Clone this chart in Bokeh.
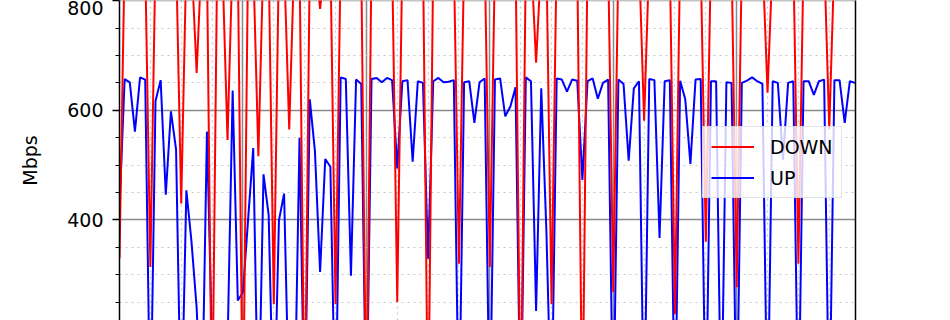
from bokeh.plotting import figure
from bokeh.models import (Range1d, FixedTicker, LinearAxis, Legend, LegendItem,
                          ColumnDataSource)
from bokeh.embed import file_html
from bokeh.resources import INLINE

# hourly samples over six days
hours = list(range(144))

down_mbps = [
    330, 880, 892, 875, 886, 870, 314, 884, 878, 890, 872, 885,
    430, 880, 874, 668, 888, 876, 5, 882, 870, 546, 886, 878,
    8, 884, 872, 516, 890, 876, 246, 882, 874, 565, 886, 880,
    4, 878, 888, 785, 872, 884, 246, 880, 890, 876, 884, 870,
    6, 882, 878, 888, 874, 880, 250, 886, 872, 884, 878, 890,
    3, 876, 884, 872, 888, 880, 320, 878, 886, 874, 882, 890,
    314, 876, 884, 872, 880, 888, 5, 878, 884, 687, 876, 882,
    246, 888, 874, 880, 886, 872, 6, 884, 878, 890, 876, 882,
    268, 874, 886, 880, 872, 884, 581, 878, 888, 874, 882, 876,
    228, 886, 872, 880, 890, 876, 360, 884, 878, 872, 886, 880,
    277, 874, 888, 882, 876, 884, 632, 878, 872, 886, 880, 890,
    320, 876, 884, 872, 880, 886, 565, 878, 884, 874, 888, 880,
]

up_mbps = [
    420, 657, 651, 561, 660, 656, 8, 617, 655, 446, 598, 528,
    10, 454, 360, 240, 20, 561, 170, 120, 140, 165, 636, 253,
    268, 400, 531, 12, 483, 409, 6, 399, 448, 40, 15, 550,
    10, 620, 525, 305, 511, 497, 8, 660, 657, 298, 656, 648,
    5, 657, 659, 651, 659, 655, 494, 653, 655, 506, 653, 650,
    329, 653, 659, 651, 652, 655, 6, 651, 653, 577, 651, 658,
    8, 656, 658, 589, 607, 642, 5, 660, 653, 234, 640, 380,
    20, 658, 656, 634, 656, 654, 473, 653, 658, 621, 650, 656,
    6, 656, 648, 508, 640, 653, 5, 657, 655, 367, 653, 655,
    8, 654, 620, 502, 656, 657, 6, 653, 653, 8, 651, 650,
    5, 650, 654, 660, 653, 648, 6, 653, 650, 510, 650, 653,
    8, 653, 653, 628, 653, 656, 5, 655, 655, 577, 653, 650,
]

y_major = [200, 400, 600, 800]
y_minor = [v for v in range(0, 1001, 50) if v not in y_major]
x_major = [24, 48, 72, 96, 120]
x_minor = [h for h in range(0, 145, 6) if h not in x_major]

FONT = "DejaVu Sans"

p = figure(width=950, height=320, output_backend="svg", toolbar_location=None,
           x_range=Range1d(0, 143.1), y_range=Range1d(216.4, 800.3),
           x_axis_location=None, min_border_left=119, min_border_right=95,
           min_border_top=0, min_border_bottom=0)
p.outline_line_color = None
p.background_fill_color = "white"
p.border_fill_color = "white"

# left axis
ax = p.yaxis[0]
ax.ticker = FixedTicker(ticks=y_major, minor_ticks=y_minor)
ax.axis_label = "Mbps"
ax.axis_label_text_font = FONT
ax.axis_label_text_font_size = "19px"
ax.axis_label_text_font_style = "normal"
ax.axis_label_text_color = "black"
ax.axis_label_standoff = 23
ax.major_label_text_font = FONT
ax.major_label_text_font_size = "19px"
ax.major_label_text_color = "black"
ax.major_label_standoff = 9
ax.axis_line_color = "black"
ax.axis_line_width = 1.5
ax.major_tick_out = 7
ax.major_tick_in = 0
ax.major_tick_line_width = 1.5
ax.minor_tick_out = 4
ax.minor_tick_in = 0
ax.minor_tick_line_width = 1.2

# right spine
rax = LinearAxis(ticker=FixedTicker(ticks=[]))
rax.axis_line_color = "black"
rax.axis_line_width = 1.5
rax.major_tick_line_color = None
rax.minor_tick_line_color = None
rax.major_label_text_color = None
p.add_layout(rax, "right")

# grids
yg = p.ygrid[0]
yg.ticker = FixedTicker(ticks=y_major, minor_ticks=y_minor)
yg.grid_line_color = "#8a8a8a"
yg.grid_line_width = 1.5
yg.minor_grid_line_color = "#c8c8c8"
yg.minor_grid_line_width = 1.2
yg.minor_grid_line_dash = "2 4"

xg = p.xgrid[0]
xg.ticker = FixedTicker(ticks=x_major, minor_ticks=x_minor)
xg.grid_line_color = "#8a8a8a"
xg.grid_line_width = 1.5
xg.minor_grid_line_color = "#c8c8c8"
xg.minor_grid_line_width = 1.2
xg.minor_grid_line_dash = "2 4"

src = ColumnDataSource(data=dict(hour=hours, down=down_mbps, up=up_mbps))
r_up = p.line("hour", "up", source=src, line_color="#0000ff", line_width=2)
r_down = p.line("hour", "down", source=src, line_color="#ff0000", line_width=2)

legend = Legend(items=[LegendItem(label="DOWN", renderers=[r_down]),
                       LegendItem(label="UP", renderers=[r_up])],
                location=(583, 122))
legend.label_text_font = FONT
legend.label_text_font_size = "19px"
legend.label_text_color = "black"
legend.glyph_width = 43
legend.glyph_height = 23
legend.label_height = 23
legend.label_standoff = 16
legend.spacing = 8
legend.padding = 8
legend.margin = 0
legend.border_line_color = "#cccccc"
legend.border_line_width = 1
legend.background_fill_color = "white"
legend.background_fill_alpha = 0.8
p.add_layout(legend, "center")

open("out.html", "w").write(file_html(p, INLINE))
